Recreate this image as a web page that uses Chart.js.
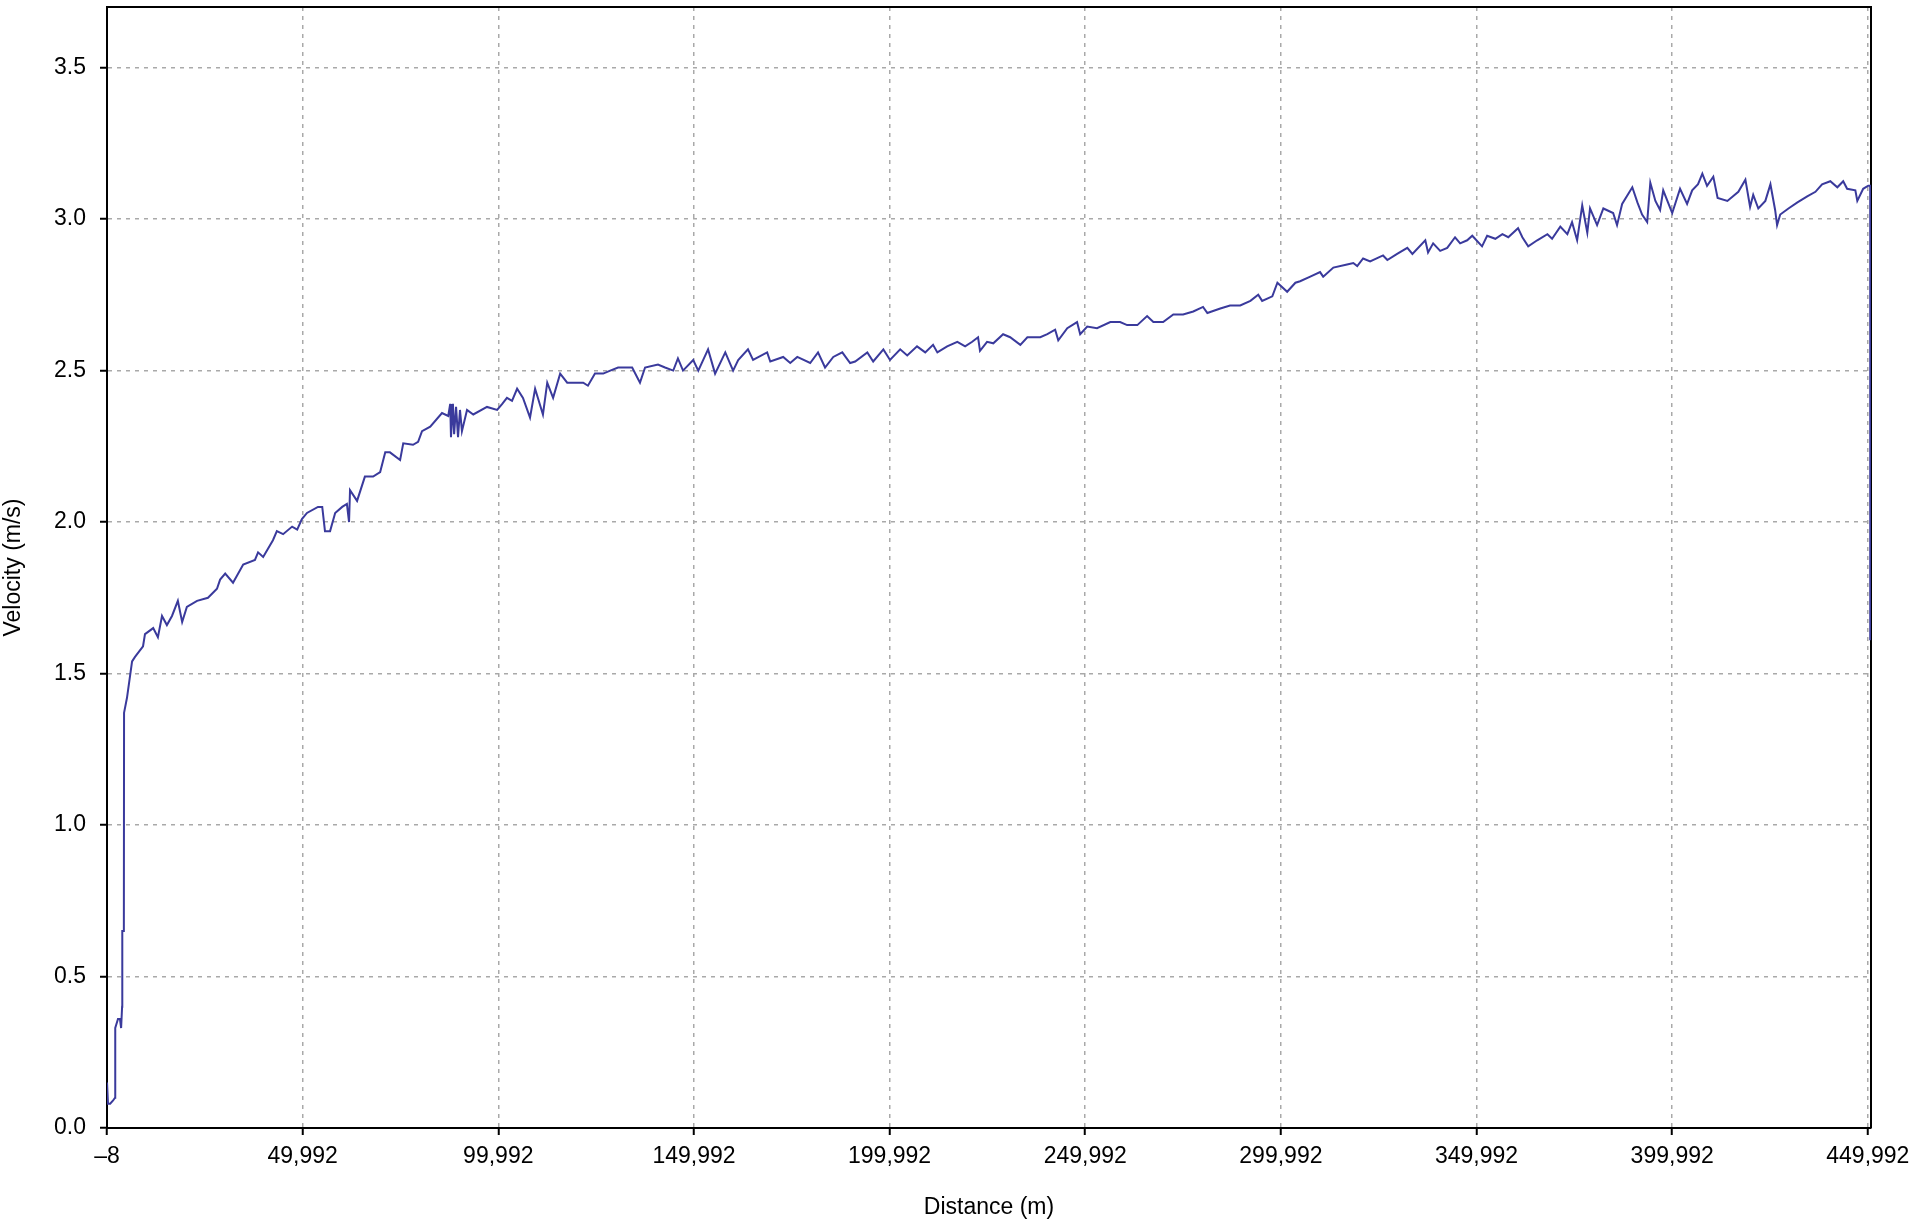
<!DOCTYPE html>
<html>
<head>
<meta charset="utf-8">
<title>Velocity vs distance</title>
<script src="https://cdn.jsdelivr.net/npm/chart.js@4.4.1/dist/chart.umd.min.js"></script>
<style>
    html, body { margin: 0; padding: 0; background: #fff; }
    #wrap { width: 1917px; height: 1221px; }
</style>
</head>
<body>
<div id="wrap"><canvas id="grafico" width="1917" height="1221"></canvas></div>
<script>
/* =======================
   DATA
======================== */
const distance = [
    0, 250, 800, 1500, 2050, 2100, 2800, 3300, 3600, 3850,
    3900, 4300, 4350, 5100, 6400, 7150, 9200, 9700, 11800, 13000,
    14050, 15300, 16600, 18100, 19200, 20400, 23000, 25800, 28100, 28900,
    30200, 32200, 34800, 37800, 38600, 39900, 42400, 43400, 45000, 47300,
    48600, 49800, 51100, 53900, 55000, 55700, 57000, 58300, 60100, 61300,
    61850, 62100, 63900, 65900, 68000, 69800, 71100, 72300, 74900, 75700,
    78200, 79500, 80500, 82600, 85600, 87200, 87700, 87900, 88400, 88700,
    89200, 89700, 90200, 90700, 92000, 93600, 97100, 99700, 101000, 102200,
    103500, 104800, 106300, 108100, 109400, 111400, 112500, 114000, 115800, 117600,
    121700, 122900, 124700, 126800, 128600, 130600, 134200, 136200, 137500, 140800,
    142600, 144700, 145900, 147200, 149800, 151100, 153600, 155400, 158000, 160000,
    161300, 163800, 165100, 168700, 169500, 172800, 174600, 176400, 179700, 181700,
    183500, 185600, 187900, 189900, 191200, 194300, 195800, 198400, 200100, 202700,
    204500, 207000, 209100, 211100, 212200, 214700, 217300, 219300, 221100, 222600,
    223100, 224900, 226500, 229000, 230800, 233400, 235200, 238500, 240300, 242300,
    243100, 245400, 247900, 248700, 250500, 253000, 256400, 258900, 260700, 263300,
    265800, 267400, 269900, 272500, 275000, 277600, 280100, 281200, 284500, 287000,
    289600, 292200, 294200, 295200, 297800, 299100, 301600, 303700, 304900, 307500,
    310000, 310800, 313400, 316900, 318500, 319500, 321000, 322800, 326100, 327200,
    329700, 332300, 333600, 336900, 337600, 338900, 340700, 342500, 344500, 345800,
    347600, 348900, 351400, 352700, 354800, 356600, 358100, 360600, 361700, 363200,
    365500, 368100, 369300, 371400, 373200, 374400, 375700, 377000, 378300, 379000,
    380800, 382400, 384900, 385900, 387200, 389800, 391100, 392300, 393600, 394400,
    395700, 396900, 397700, 400000, 402000, 403800, 405100, 406600, 407700, 408900,
    410500, 411600, 414100, 416900, 418700, 419900, 420700, 422000, 423800, 425100,
    426300, 426800, 427600, 429700, 432000, 434500, 436600, 438300, 440400, 442200,
    443700, 444700, 446800, 447300, 448800, 450100, 450600, 450600
];

const velocity = [
    0.15, 0.08, 0.08, 0.09, 0.10, 0.33, 0.36, 0.36, 0.33, 0.40,
    0.65, 0.65, 1.37, 1.42, 1.54, 1.555, 1.59, 1.63, 1.65, 1.62,
    1.69, 1.66, 1.69, 1.74, 1.67, 1.72, 1.74, 1.75, 1.78, 1.81,
    1.83, 1.80, 1.86, 1.875, 1.90, 1.885, 1.94, 1.97, 1.96, 1.985,
    1.975, 2.01, 2.03, 2.05, 2.05, 1.97, 1.97, 2.03, 2.05, 2.06,
    2.00, 2.105, 2.07, 2.15, 2.15, 2.165, 2.23, 2.23, 2.205, 2.26,
    2.255, 2.265, 2.30, 2.315, 2.36, 2.35, 2.39, 2.28, 2.39, 2.29,
    2.38, 2.28, 2.37, 2.30, 2.37, 2.355, 2.38, 2.37, 2.39, 2.41,
    2.40, 2.44, 2.41, 2.345, 2.44, 2.355, 2.46, 2.41, 2.49, 2.46,
    2.46, 2.45, 2.49, 2.49, 2.50, 2.51, 2.51, 2.46, 2.51, 2.52,
    2.51, 2.50, 2.54, 2.50, 2.535, 2.50, 2.57, 2.49, 2.56, 2.50,
    2.535, 2.57, 2.535, 2.56, 2.53, 2.545, 2.525, 2.545, 2.525, 2.56,
    2.51, 2.545, 2.56, 2.525, 2.53, 2.56, 2.53, 2.57, 2.535, 2.57,
    2.55, 2.58, 2.56, 2.585, 2.56, 2.58, 2.595, 2.58, 2.595, 2.61,
    2.565, 2.595, 2.59, 2.62, 2.61, 2.585, 2.61, 2.61, 2.62, 2.635,
    2.60, 2.64, 2.66, 2.62, 2.645, 2.64, 2.66, 2.66, 2.65, 2.65,
    2.68, 2.66, 2.66, 2.685, 2.685, 2.695, 2.71, 2.69, 2.705, 2.715,
    2.715, 2.73, 2.75, 2.73, 2.745, 2.79, 2.76, 2.79, 2.795, 2.81,
    2.825, 2.81, 2.84, 2.85, 2.855, 2.845, 2.87, 2.86, 2.88, 2.865,
    2.885, 2.905, 2.885, 2.93, 2.89, 2.92, 2.895, 2.905, 2.94, 2.92,
    2.93, 2.945, 2.91, 2.945, 2.935, 2.95, 2.94, 2.97, 2.94, 2.91,
    2.93, 2.95, 2.935, 2.975, 2.95, 2.99, 2.93, 3.045, 2.955, 3.035,
    2.98, 3.035, 3.02, 2.98, 3.05, 3.105, 3.055, 3.015, 2.99, 3.12,
    3.06, 3.03, 3.095, 3.02, 3.10, 3.05, 3.095, 3.115, 3.15, 3.11,
    3.14, 3.07, 3.06, 3.09, 3.13, 3.04, 3.08, 3.035, 3.06, 3.115,
    3.03, 2.98, 3.015, 3.035, 3.055, 3.075, 3.09, 3.115, 3.125, 3.105,
    3.125, 3.10, 3.095, 3.06, 3.10, 3.11, 3.11, 1.61
];

const xTicks = [-8, 49992, 99992, 149992, 199992, 249992, 299992, 349992, 399992, 449992];
const yTicks = [0, 0.5, 1.0, 1.5, 2.0, 2.5, 3.0, 3.5];
const xMin = -8;
const xMax = 450800;
const yMin = 0;
const yMax = 3.7;

/* =======================
   STYLE
======================== */
const fonte = { family: "'Liberation Sans', Arial, Helvetica, sans-serif", size: 23 };
const corLinha = "#3a3a9c";
const corGrade = "#a9a9a9";

function formatarDistancia(v) {
    if (v < 0) return "\u2013" + Math.abs(v);
    return v.toLocaleString("en-US");
}

// tira o padding automatico que o Chart.js poe por causa dos rotulos
function zerarPadding(scale) {
    scale.paddingTop = 0;
    scale.paddingBottom = 0;
    scale.paddingLeft = 0;
    scale.paddingRight = 0;
}

// borda de cima e da direita do grafico
const moldura = {
    id: "moldura",
    beforeDatasetsDraw(chart) {
        const { ctx, chartArea: a } = chart;
        ctx.save();
        ctx.strokeStyle = "#000";
        ctx.lineWidth = 2;
        ctx.beginPath();
        ctx.moveTo(a.left, a.top);
        ctx.lineTo(a.right, a.top);
        ctx.lineTo(a.right, a.bottom);
        ctx.stroke();
        ctx.restore();
    }
};

const pontos = distance.map((d, i) => ({ x: d, y: velocity[i] }));

new Chart(document.getElementById("grafico").getContext("2d"), {
    type: "line",
    data: {
        datasets: [{
            label: "Velocity",
            data: pontos,
            borderColor: corLinha,
            borderWidth: 2,
            pointRadius: 0,
            tension: 0,
            fill: false
        }]
    },
    options: {
        responsive: false,
        animation: false,
        devicePixelRatio: 1,
        layout: { padding: { top: 7, right: 46, left: 0, bottom: 0 } },
        plugins: {
            legend: { display: false },
            tooltip: { enabled: false }
        },
        scales: {
            x: {
                type: "linear",
                min: xMin,
                max: xMax,
                afterBuildTicks: s => { s.ticks = xTicks.map(v => ({ value: v })); },
                afterFit: s => { s.height = 93; zerarPadding(s); },
                grid: {
                    color: corGrade,
                    lineWidth: 1.5,
                    tickLength: 7,
                    tickColor: "#000",
                    tickWidth: 2,
                    tickBorderDash: [10, 0]
                },
                border: { color: "#000", width: 2, dash: [4, 5] },
                ticks: {
                    color: "#000",
                    font: fonte,
                    padding: 8,
                    autoSkip: false,
                    maxRotation: 0,
                    callback: v => formatarDistancia(v)
                },
                title: { display: true, text: "Distance (m)", color: "#000", font: fonte, padding: 0 }
            },
            y: {
                type: "linear",
                min: yMin,
                max: yMax,
                afterBuildTicks: s => { s.ticks = yTicks.map(v => ({ value: v })); },
                afterFit: s => { s.width = 107; zerarPadding(s); },
                grid: {
                    color: corGrade,
                    lineWidth: 1.5,
                    tickLength: 7,
                    tickColor: "#000",
                    tickWidth: 2,
                    tickBorderDash: [10, 0]
                },
                border: { color: "#000", width: 2, dash: [4, 5] },
                ticks: {
                    color: "#000",
                    font: fonte,
                    padding: 14,
                    callback: v => v.toFixed(1)
                },
                title: { display: true, text: "Velocity (m/s)", color: "#000", font: fonte, padding: 0 }
            }
        }
    },
    plugins: [moldura]
});
</script>
</body>
</html>
